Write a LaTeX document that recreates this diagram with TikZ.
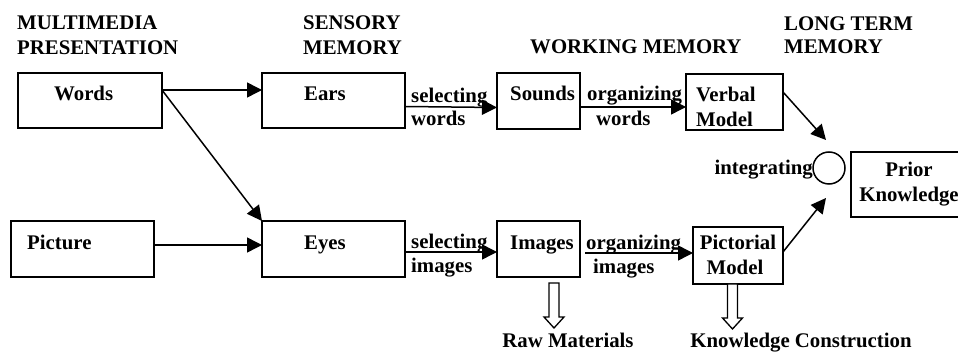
\documentclass[tikz,border=0pt]{standalone}
\usepackage{fontspec}
\setmainfont{Liberation Serif}
\usetikzlibrary{arrows.meta}
\begin{document}
\begin{tikzpicture}[x=1pt,y=-1pt,
  box/.style={draw, line width=1.6pt, rectangle, inner sep=0, outer sep=0, anchor=north west},
  lbl/.style={font=\fontsize{20.8}{25}\selectfont\bfseries, inner sep=0, anchor=base west},
  lblc/.style={lbl, anchor=base},
  arr/.style={line width=1.5pt, -{Triangle[length=15pt,width=15pt]}},
  hol/.style={line width=1.3pt, fill=white}
]
\useasboundingbox (0,0) rectangle (958,352);
\clip (0,0) rectangle (958,352);

% headers
\node[lbl] (h1a) at (17,30) {MULTIMEDIA};
\node[lbl] (h1b) at (17,55) {PRESENTATION};
\node[lbl] (h2a) at (303,30) {SENSORY};
\node[lbl] (h2b) at (303,55) {MEMORY};
\node[lbl] (h3) at (530,54) {WORKING MEMORY};
\node[lbl] (h4a) at (784,31) {LONG TERM};
\node[lbl] (h4b) at (784,54) {MEMORY};

% boxes
\node[box, minimum width=144pt, minimum height=55pt] (words) at (18,73) {};
\node[box, minimum width=143pt, minimum height=55pt] (ears) at (262,73) {};
\node[box, minimum width=83pt, minimum height=56pt] (sounds) at (497,73) {};
\node[box, minimum width=97pt, minimum height=56pt] (verbal) at (686,74) {};
\node[box, minimum width=143pt, minimum height=56pt] (picture) at (11,221) {};
\node[box, minimum width=143pt, minimum height=56pt] (eyes) at (262,221) {};
\node[box, minimum width=83pt, minimum height=56pt] (images) at (497,221) {};
\node[box, minimum width=90pt, minimum height=57pt] (pictorial) at (693,227) {};
\node[box, minimum width=120pt, minimum height=65pt] (prior) at (851,152) {};
\node[draw, circle, minimum size=32pt, inner sep=0, outer sep=0, line width=1.5pt] (circ) at (829,168) {};

% box texts
\node[lbl] (tw) at (54,101) {Words};
\node[lbl] (te) at (304,101) {Ears};
\node[lbl] (ts) at (510,101) {Sounds};
\node[lbl] (tv1) at (696,102) {Verbal};
\node[lbl] (tv2) at (696,127) {Model};
\node[lbl] (tp) at (27,250) {Picture};
\node[lbl] (ty) at (304,250) {Eyes};
\node[lbl] (ti) at (510,250) {Images};
\node[lblc] (tpm1) at (738,250) {Pictorial};
\node[lblc] (tpm2) at (735,275) {Model};
\node[lblc] (tk1) at (909,177) {Prior};
\node[lblc] (tk2) at (909,202) {Knowledge};

% connector labels
\node[lbl] (sw1) at (411,103) {selecting};
\node[lbl] (sw2) at (411,126) {words};
\node[lbl] (ow1) at (587,101) {organizing};
\node[lbl] (ow2) at (596,126) {words};
\node[lbl] (si1) at (411,249) {selecting};
\node[lbl] (si2) at (411,273) {images};
\node[lbl] (oi1) at (586,250) {organizing};
\node[lbl] (oi2) at (593,274) {images};
\node[lbl, anchor=base east] (integ) at (813,175) {integrating};
\node[lblc] (raw) at (568,348) {Raw Materials};
\node[lblc] (kc) at (801,348) {Knowledge Construction};

% connectors
\draw[arr] ([yshift=10.5pt]words.east) -- ([yshift=10.5pt]ears.west);
\draw[arr] ([yshift=10.5pt]words.east) -- (eyes.north west);
\draw[arr] ([yshift=4pt]picture.east) -- ([yshift=4pt]eyes.west);
\draw[arr] ([yshift=-6pt]ears.east) -- ([yshift=-6.5pt]sounds.west);
\draw[arr] ([yshift=-6pt]sounds.east) -- ([yshift=-5pt]verbal.west);
\draw[arr] ([yshift=-3pt]eyes.east) -- ([yshift=-3pt]images.west);
\draw[arr] ([xshift=5pt,yshift=-4pt]images.east) -- ([yshift=2.5pt]pictorial.west);
\coordinate (in1) at ([xshift=-3pt,yshift=12pt]circ.north);
\coordinate (in2) at ([xshift=-3pt,yshift=-14pt]circ.south);
\draw[arr] ([yshift=10pt]verbal.east) -- (in1);
\draw[arr] ([yshift=3.5pt]pictorial.east) -- (in2);

% hollow arrows
\coordinate (h1) at ([xshift=15.5pt,yshift=-6pt]images.south);
\coordinate (h2) at ([xshift=-5.5pt]pictorial.south);
\draw[hol] (h1) ++(-5,0) -- ++(0,34) -- ++(-5,0) -- ++(10,11) -- ++(10,-11) -- ++(-5,0) -- ++(0,-34) -- cycle;
\draw[hol] (h2) ++(-5,0) -- ++(0,34) -- ++(-5,0) -- ++(10,11) -- ++(10,-11) -- ++(-5,0) -- ++(0,-34) -- cycle;
\end{tikzpicture}
\end{document}
